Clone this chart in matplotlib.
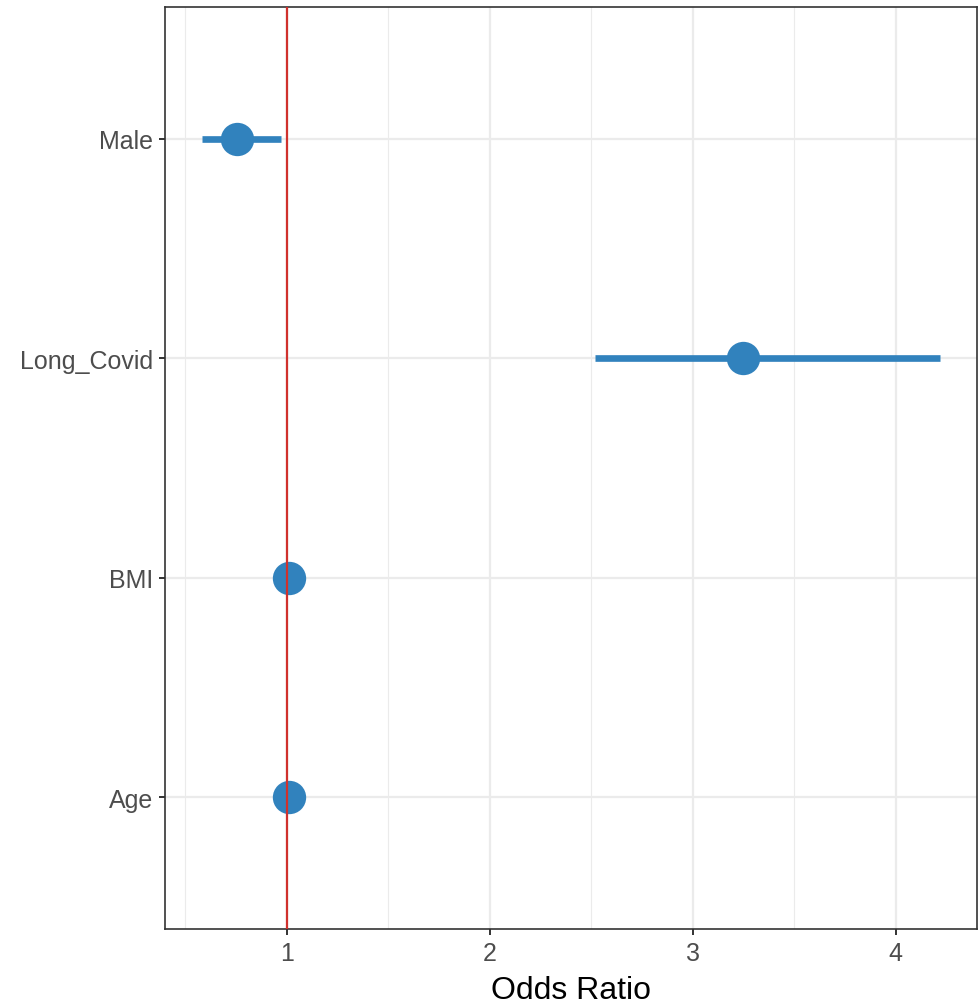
import matplotlib
matplotlib.use("Agg")
import matplotlib.pyplot as plt
from matplotlib.ticker import FixedLocator

terms = ["Age", "BMI", "Long_Covid", "Male"]
odds_ratio = [1.01, 1.013, 3.248, 0.755]
ci_low = [0.99, 0.995, 2.517, 0.581]
ci_high = [1.03, 1.03, 4.217, 0.970]
x_ticks = [1, 2, 3, 4]
x_minor = [0.5, 1.5, 2.5, 3.5]

plt.rcParams['font.family'] = ['Liberation Sans', 'DejaVu Sans']

fig = plt.figure(figsize=(9.79, 10.04), dpi=100)
ax = fig.add_axes([165/979, 74/1004, 812/979, 922/1004])

blue = "#3182BD"
ypos = list(range(1, len(terms) + 1))

ax.hlines(ypos, ci_low, ci_high, color=blue, lw=4.8, zorder=3)
ax.plot(odds_ratio, ypos, 'o', color=blue, ms=24, mec='none', zorder=4)
ax.axvline(1, color="#D0312D", lw=1.6, zorder=5)

ax.set_xlim(0.40, 4.40)
ax.set_ylim(0.4, 4.6)
ax.set_yticks(ypos)
ax.set_yticklabels(terms)
ax.xaxis.set_major_locator(FixedLocator(x_ticks))
ax.xaxis.set_minor_locator(FixedLocator(x_minor))
ax.set_xticklabels([str(t) for t in x_ticks])

ax.grid(which='major', color='#EBEBEB', lw=1.6, zorder=0)
ax.grid(which='minor', axis='x', color='#EBEBEB', lw=0.8, zorder=0)
ax.set_axisbelow(True)

ax.tick_params(axis='both', which='major', labelsize=18, labelcolor='#4D4D4D',
               color='#333333', length=4.5, width=1.4, pad=4)
ax.tick_params(axis='x', which='minor', length=0)
for s in ax.spines.values():
    s.set_color('#333333')
    s.set_linewidth(1.2)

ax.set_xlabel("Odds Ratio", fontsize=23, color='black', labelpad=7)

fig.savefig("out.png", dpi=100)
